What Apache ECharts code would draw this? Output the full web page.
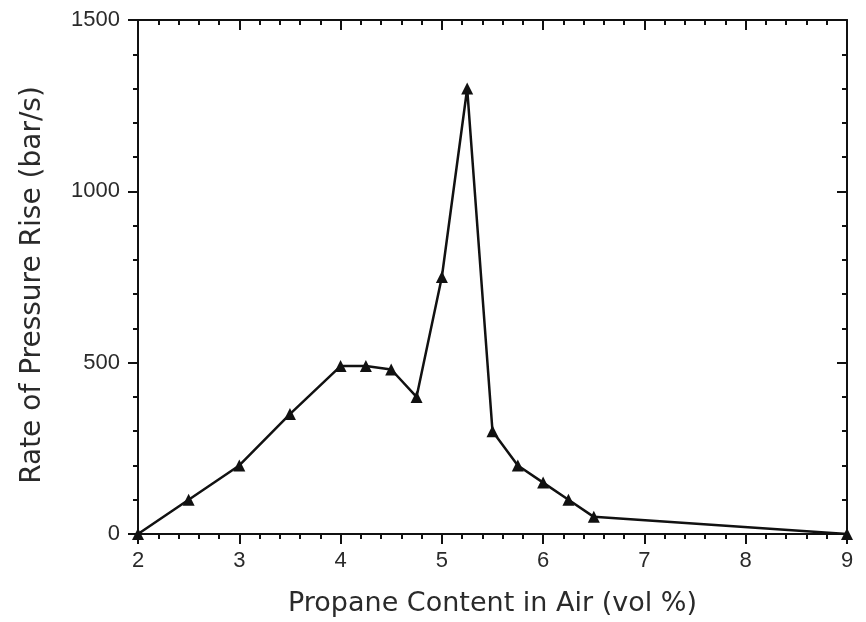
<!DOCTYPE html>
<html>
<head>
<meta charset="utf-8">
<script src="https://cdn.jsdelivr.net/npm/echarts@6/dist/echarts.min.js"></script>
<style>
  html, body { margin: 0; padding: 0; background: #fff; }
  #chart { width: 866px; height: 622px; }
</style>
</head>
<body>
<div id="chart"></div>
<script>
// propane vol % vs rate of pressure rise (bar/s)
const propaneContent = [2, 2.5, 3, 3.5, 4, 4.25, 4.5, 4.75, 5, 5.25, 5.5, 5.75, 6, 6.25, 6.5, 9];
const pressureRise = [0, 100, 200, 350, 490, 490, 480, 400, 750, 1300, 300, 200, 150, 100, 50, 0];

const xTitle = 'Propane Content in Air (vol %)';
const yTitle = 'Rate of Pressure Rise (bar/s)';

const ink = '#111';
const textColor = '#2a2a2a';
const font = 'DejaVu Sans';

const chart = echarts.init(document.getElementById('chart'), null, { renderer: 'canvas' });

const baseAxis = {
  type: 'value',
  axisLine: { show: true, onZero: false, lineStyle: { color: ink, width: 2 } },
  axisTick: { show: true, length: 10, lineStyle: { color: ink, width: 2 } },
  minorTick: { show: true, splitNumber: 5, length: 5, lineStyle: { color: ink, width: 2 } },
  splitLine: { show: false },
  axisLabel: { color: textColor, fontFamily: 'Liberation Sans', fontSize: 22, formatter: v => String(v) }
};

chart.setOption({
  animation: false,
  backgroundColor: '#fff',
  grid: { left: 138, right: 19, top: 20, bottom: 87 },
  xAxis: [
    Object.assign({}, baseAxis, {
      position: 'bottom', min: 2, max: 9, interval: 1,
      name: xTitle, nameLocation: 'middle', nameGap: 56,
      nameTextStyle: { color: textColor, fontFamily: font, fontSize: 27 },
      axisLabel: Object.assign({}, baseAxis.axisLabel, { margin: 16 })
    }),
    Object.assign({}, baseAxis, {
      position: 'top', min: 2, max: 9, interval: 1,
      axisTick: Object.assign({}, baseAxis.axisTick, { inside: true }),
      axisLabel: { show: false }
    })
  ],
  yAxis: [
    Object.assign({}, baseAxis, {
      position: 'left', min: 0, max: 1500, interval: 500,
      name: yTitle, nameLocation: 'middle', nameGap: 91,
      nameTextStyle: { color: textColor, fontFamily: font, fontSize: 28, padding: [0, 16, 0, 0] },
      axisLabel: Object.assign({}, baseAxis.axisLabel, { margin: 18 })
    }),
    Object.assign({}, baseAxis, {
      position: 'right', min: 0, max: 1500, interval: 500,
      axisTick: Object.assign({}, baseAxis.axisTick, { inside: true }),
      axisLabel: { show: false }
    })
  ],
  series: [{
    type: 'line',
    data: propaneContent.map((x, i) => [x, pressureRise[i]]),
    symbol: 'triangle',
    symbolSize: 12,
    showAllSymbol: true,
    itemStyle: { color: ink },
    lineStyle: { color: ink, width: 2.5 }
  }]
});
</script>
</body>
</html>
